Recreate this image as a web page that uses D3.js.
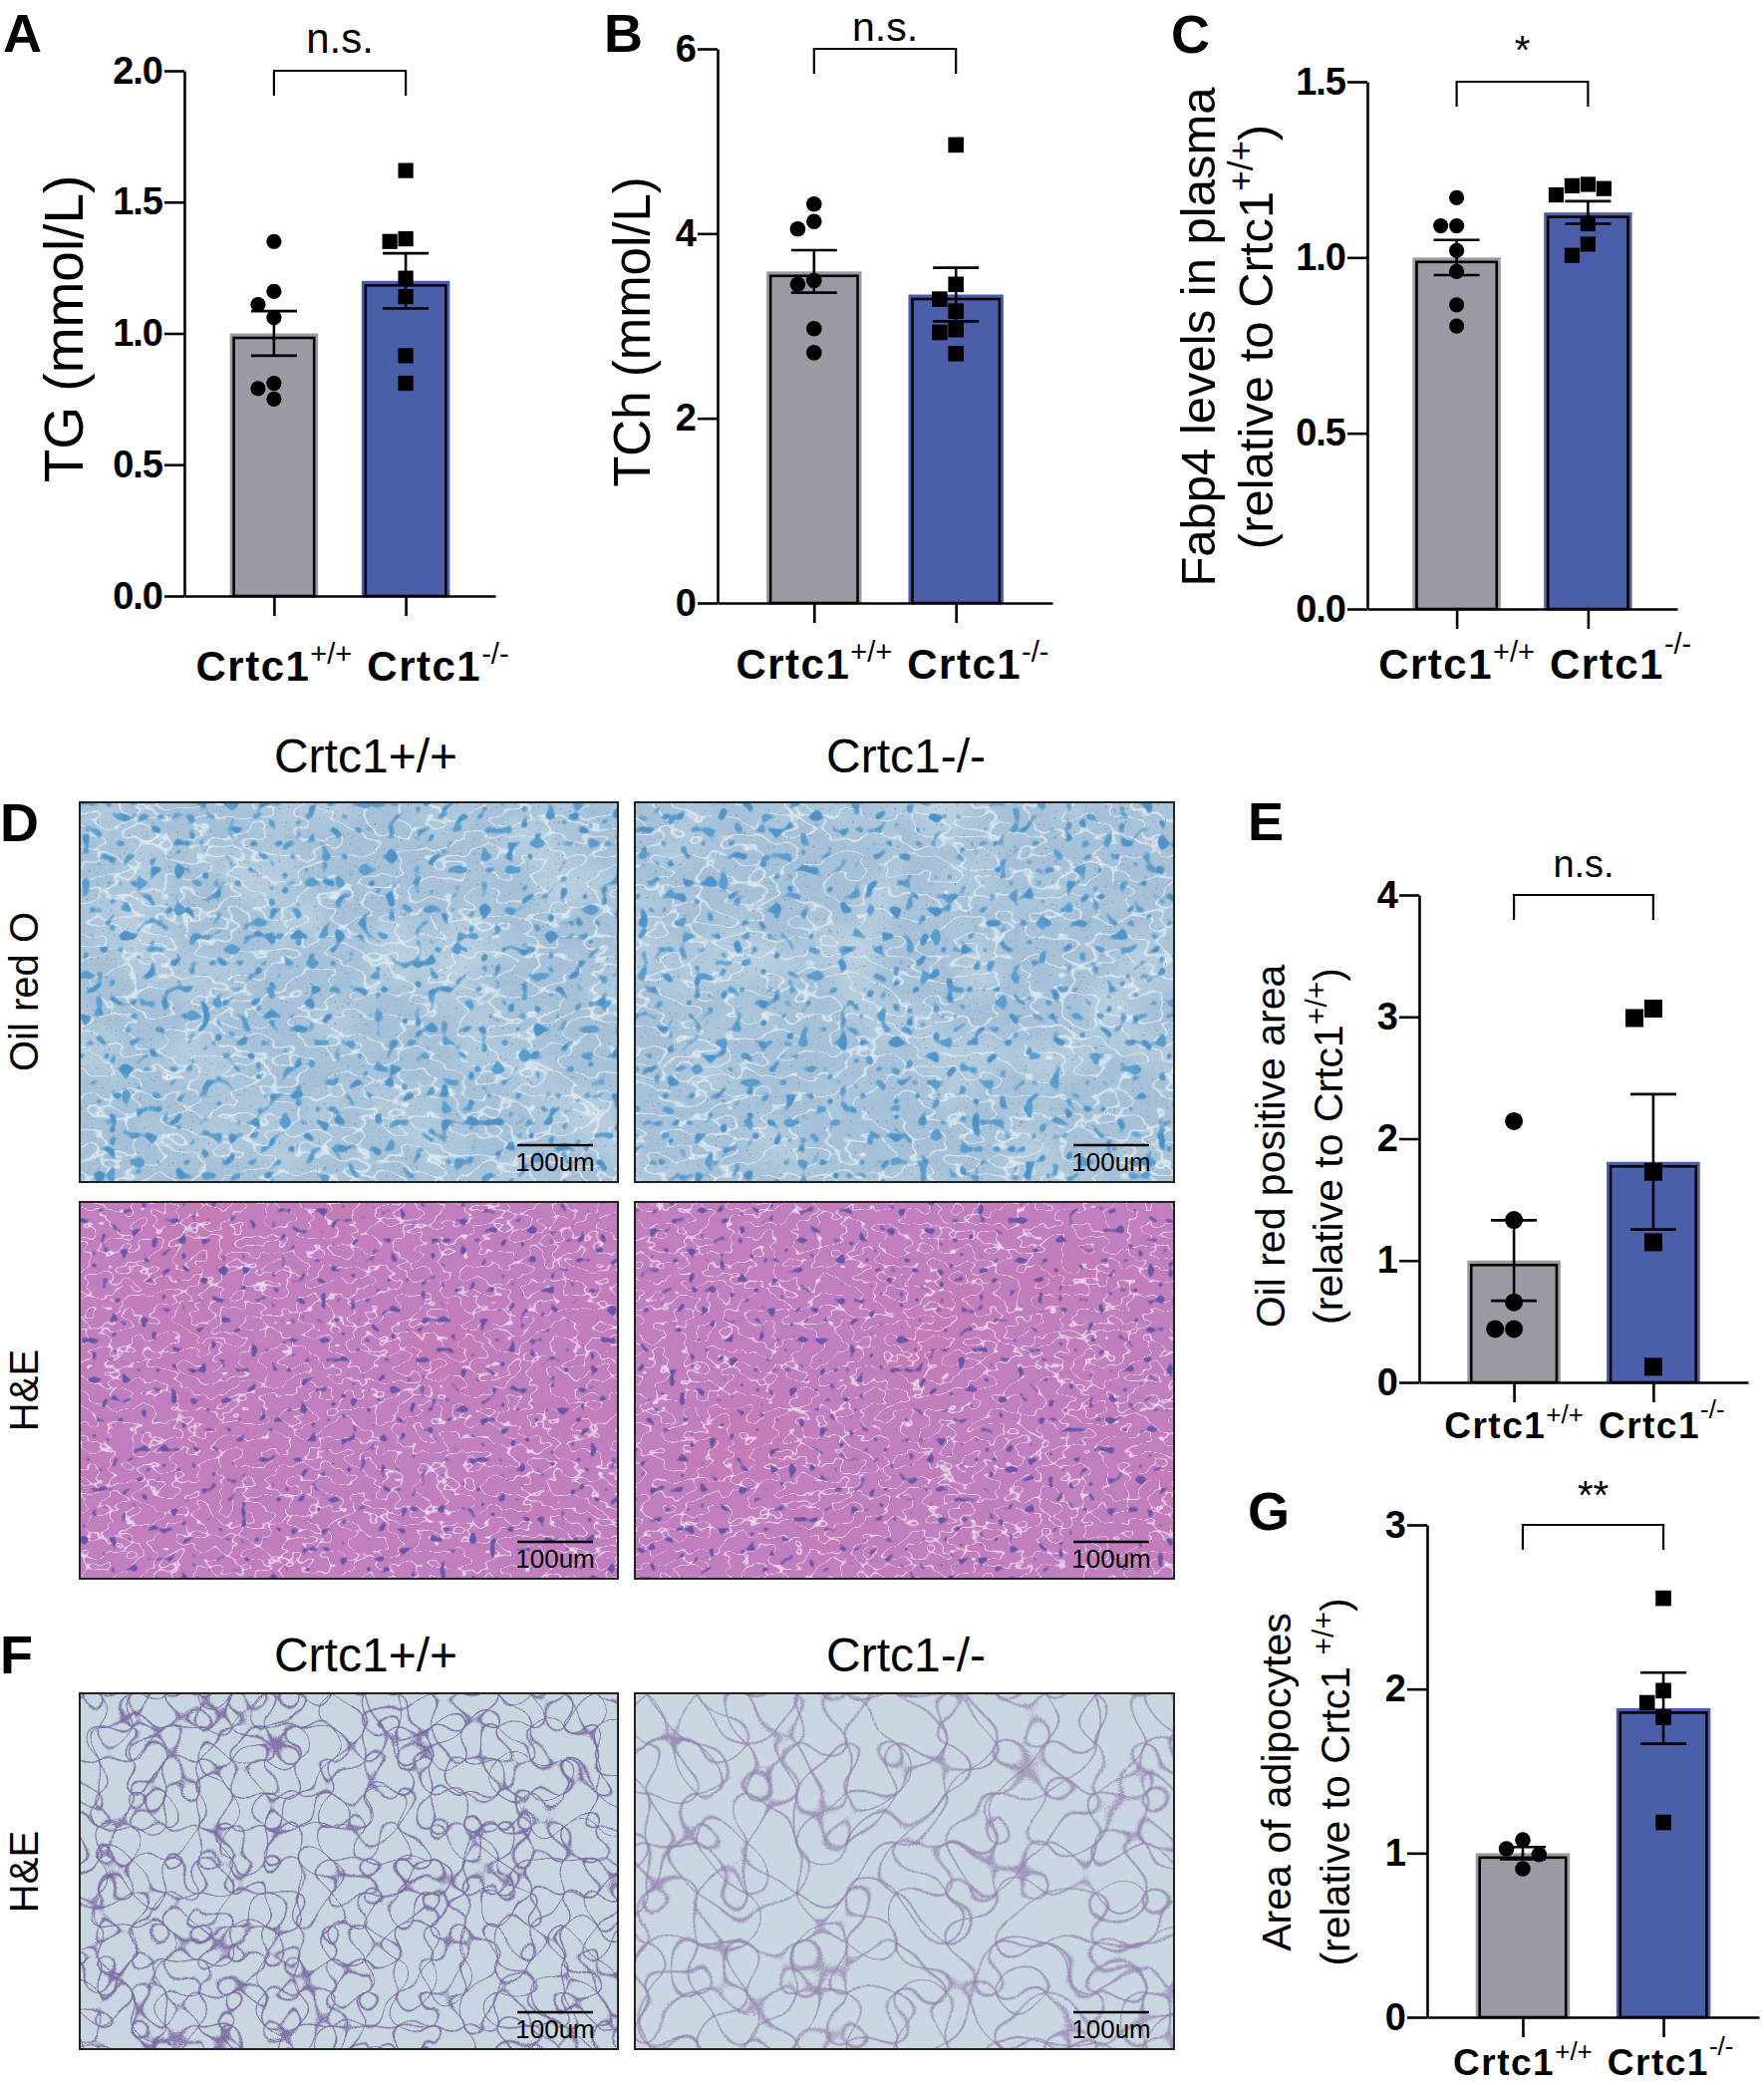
<!DOCTYPE html>
<html>
<head>
<meta charset="utf-8">
<script src="https://cdn.jsdelivr.net/npm/d3@7"></script>
<style>
  body { margin: 0; background: #fff; }
  svg text { font-family: "Liberation Sans", Arial, sans-serif; fill: #000; }
</style>
</head>
<body>
<svg id="fig" width="1770" height="2092"></svg>
<script>
// groups shared by every bar panel
const groups = ["Crtc1+/+", "Crtc1-/-"];

// A - TG (mmol/L)
const tgMean = [1.0, 1.2];
const tgSem = [0.085, 0.105];
const tgWT = [1.35, 1.16, 1.11, 1.06, 0.81, 0.79, 0.75];
const tgKO = [1.62, 1.36, 1.35, 1.21, 1.14, 0.915, 0.81];
const tgTicks = [0, 0.5, 1.0, 1.5, 2.0];

// B - TCh (mmol/L)
const tchMean = [3.59, 3.34];
const tchSem = [0.23, 0.29];
const tchWT = [4.32, 4.13, 4.05, 3.49, 3.45, 2.97, 2.71];
const tchKO = [4.96, 3.45, 3.29, 3.16, 2.96, 2.93, 2.70];
const tchTicks = [0, 2, 4, 6];

// C - Fabp4 in plasma
const fabMean = [1.0, 1.128];
const fabSem = [0.05, 0.032];
const fabWT = [1.17, 1.09, 1.09, 1.02, 0.96, 0.865, 0.805];
const fabKO = [1.208, 1.204, 1.196, 1.178, 1.096, 1.038, 1.006];
const fabTicks = [0, 0.5, 1.0, 1.5];

// E - Oil red positive area
const oroMean = [1.0, 1.81];
const oroSem = [0.33, 0.555];
const oroWT = [2.144, 1.333, 0.657, 0.438, 0.438];
const oroKO = [3.068, 2.99, 1.728, 1.15, 0.128];
const oroTicks = [0, 1, 2, 3, 4];

// G - Area of adipocytes
const adiMean = [1.0, 1.883];
const adiSem = [0.037, 0.217];
const adiWT = [1.08, 1.026, 0.991, 0.905];
const adiKO = [2.553, 1.99, 1.916, 1.828, 1.187];
const adiTicks = [0, 1, 2, 3];

const barColors = ["#9b9ba3", "#4a5ea9"];

const svg = d3.select("#fig");

// ---------- textures for the micrographs (filters only) ----------
const alphaFrom = ch => {
  const m = [0, 0, 0, 0];
  m[ch] = 1;
  return "0 0 0 0 0 0 0 0 0 0 0 0 0 0 0 " + m.join(" ") + " 0";
};
const band = (n, peak) => {
  const v = new Array(n).fill(0);
  v[Math.floor(n / 2)] = peak;
  return v.join(" ");
};

const defs = svg.append("defs");
defs.html(`
<filter id="fOro" x="0" y="0" width="1" height="1" color-interpolation-filters="sRGB">
  <feFlood flood-color="#a5c2d9" result="bg"/>
  <feTurbulence type="fractalNoise" baseFrequency="0.012" numOctaves="2" seed="21" result="lo"/>
  <feColorMatrix in="lo" type="matrix" values="${alphaFrom(0)}" result="loA"/>
  <feComponentTransfer in="loA" result="loM"><feFuncA type="linear" slope="2" intercept="-0.9"/></feComponentTransfer>
  <feFlood flood-color="#c3d7e4"/><feComposite in2="loM" operator="in" result="light"/>
  <feTurbulence type="fractalNoise" baseFrequency="0.03 0.05" numOctaves="2" seed="7" result="nw"/>
  <feColorMatrix in="nw" type="matrix" values="${alphaFrom(0)}" result="nwA"/>
  <feComponentTransfer in="nwA" result="paleMask"><feFuncA type="table" tableValues="${band(31, 0.9)}"/></feComponentTransfer>
  <feFlood flood-color="#e3edf3"/><feComposite in2="paleMask" operator="in" result="pale"/>
  <feTurbulence type="fractalNoise" baseFrequency="0.075" numOctaves="1" seed="2" result="nn"/>
  <feColorMatrix in="nn" type="matrix" values="${alphaFrom(0)}" result="nnA"/>
  <feComponentTransfer in="nnA" result="nucMask"><feFuncA type="linear" slope="14" intercept="-8.9"/></feComponentTransfer>
  <feFlood flood-color="#4f94c9"/><feComposite in2="nucMask" operator="in" result="nuc"/>
  <feColorMatrix in="nn" type="matrix" values="${alphaFrom(1)}" result="nnB"/>
  <feComponentTransfer in="nnB" result="nucMask2"><feFuncA type="linear" slope="14" intercept="-9.0"/></feComponentTransfer>
  <feFlood flood-color="#5a9ecf"/><feComposite in2="nucMask2" operator="in" result="nuc2"/>
  <feTurbulence type="fractalNoise" baseFrequency="0.45" numOctaves="1" seed="11" result="nr"/>
  <feColorMatrix in="nr" type="matrix" values="${alphaFrom(1)}" result="nrA"/>
  <feComponentTransfer in="nrA" result="redMask"><feFuncA type="linear" slope="6" intercept="-4.0"/></feComponentTransfer>
  <feFlood flood-color="#a4546e" flood-opacity="0.75"/><feComposite in2="redMask" operator="in" result="red"/>
  <feMerge><feMergeNode in="bg"/><feMergeNode in="light"/><feMergeNode in="pale"/><feMergeNode in="nuc"/><feMergeNode in="nuc2"/><feMergeNode in="red"/></feMerge>
</filter>
<filter id="fHe" x="0" y="0" width="1" height="1" color-interpolation-filters="sRGB">
  <feFlood flood-color="#c17fc0" result="bg"/>
  <feTurbulence type="fractalNoise" baseFrequency="0.008" numOctaves="2" seed="4" result="lo"/>
  <feColorMatrix in="lo" type="matrix" values="0 0 0 0 0 0 0 0 0 0 0 0 0 0 0 2 0 0 0 -1" result="loA"/>
  <feFlood flood-color="#d0749f" flood-opacity="0.55"/><feComposite in2="loA" operator="in" result="patch"/>
  <feTurbulence type="fractalNoise" baseFrequency="0.045 0.07" numOctaves="2" seed="9" result="cw"/>
  <feColorMatrix in="cw" type="matrix" values="${alphaFrom(0)}" result="cwA"/>
  <feComponentTransfer in="cwA" result="crackMask"><feFuncA type="table" tableValues="${band(41, 0.9)}"/></feComponentTransfer>
  <feFlood flood-color="#f4e8f4"/><feComposite in2="crackMask" operator="in" result="crack"/>
  <feTurbulence type="fractalNoise" baseFrequency="0.1" numOctaves="1" seed="5" result="nn"/>
  <feColorMatrix in="nn" type="matrix" values="${alphaFrom(0)}" result="nnA"/>
  <feComponentTransfer in="nnA" result="nucMask"><feFuncA type="linear" slope="14" intercept="-9.1"/></feComponentTransfer>
  <feFlood flood-color="#6a55a8"/><feComposite in2="nucMask" operator="in" result="nuc"/>
  <feMerge><feMergeNode in="bg"/><feMergeNode in="patch"/><feMergeNode in="crack"/><feMergeNode in="nuc"/></feMerge>
</filter>
<filter id="fFat" x="0" y="0" width="1" height="1" color-interpolation-filters="sRGB">
  <feFlood flood-color="#c7d6df" result="bg"/>
  <feTurbulence type="fractalNoise" baseFrequency="0.03" numOctaves="1" seed="3" result="n1"/>
  <feColorMatrix in="n1" type="matrix" values="${alphaFrom(0)}" result="a1"/>
  <feComponentTransfer in="a1" result="l1"><feFuncA type="table" tableValues="${band(61, 1)}"/></feComponentTransfer>
  <feColorMatrix in="n1" type="matrix" values="${alphaFrom(1)}" result="a2"/>
  <feComponentTransfer in="a2" result="l2"><feFuncA type="table" tableValues="${band(61, 1)}"/></feComponentTransfer>
  <feColorMatrix in="n1" type="matrix" values="${alphaFrom(2)}" result="a3"/>
  <feComponentTransfer in="a3" result="l3"><feFuncA type="table" tableValues="${band(61, 1)}"/></feComponentTransfer>
  <feMerge result="lines"><feMergeNode in="l1"/><feMergeNode in="l2"/><feMergeNode in="l3"/></feMerge>
  <feFlood flood-color="#7a68a0"/><feComposite in2="lines" operator="in" result="wall"/>
  <feMerge><feMergeNode in="bg"/><feMergeNode in="wall"/></feMerge>
</filter>
<filter id="fFat2" x="0" y="0" width="1" height="1" color-interpolation-filters="sRGB">
  <feFlood flood-color="#c9d7e0" result="bg"/>
  <feTurbulence type="fractalNoise" baseFrequency="0.02" numOctaves="1" seed="12" result="n1"/>
  <feColorMatrix in="n1" type="matrix" values="${alphaFrom(0)}" result="a1"/>
  <feComponentTransfer in="a1" result="l1"><feFuncA type="table" tableValues="${band(61, 0.85)}"/></feComponentTransfer>
  <feColorMatrix in="n1" type="matrix" values="${alphaFrom(1)}" result="a2"/>
  <feComponentTransfer in="a2" result="l2"><feFuncA type="table" tableValues="${band(61, 0.85)}"/></feComponentTransfer>
  <feColorMatrix in="n1" type="matrix" values="${alphaFrom(2)}" result="a3"/>
  <feComponentTransfer in="a3" result="l3"><feFuncA type="table" tableValues="${band(61, 0.85)}"/></feComponentTransfer>
  <feMerge result="lines"><feMergeNode in="l1"/><feMergeNode in="l2"/><feMergeNode in="l3"/></feMerge>
  <feFlood flood-color="#9482b0"/><feComposite in2="lines" operator="in" result="wall"/>
  <feMerge><feMergeNode in="bg"/><feMergeNode in="wall"/></feMerge>
</filter>`);

// ---------- helpers ----------
function swarm(vals, y, d) {
  const placed = [];
  const order = vals.map((v, i) => i).sort((a, b) => vals[b] - vals[a]);
  const offs = [0, -1, 1, -2, 2, -3, 3];
  order.forEach(i => {
    const py = y(vals[i]);
    for (const k of offs) {
      const px = k * d;
      if (placed.every(q => (q.x - px) ** 2 + (q.y - py) ** 2 >= d * d * 0.9)) {
        placed.push({ x: px, y: py, v: vals[i] });
        break;
      }
    }
  });
  return placed;
}

// writes label segments into a text node; superscripts are raised and smaller
function addLabel(t, segs, supSize, supDy) {
  segs.forEach(s => {
    const ts = t.append("tspan").text(s.t);
    if (s.sup) ts.attr("font-size", supSize).attr("dy", supDy);
    else if (s.after) ts.attr("dy", -supDy);
  });
}

function drawPanel(p) {
  const g = svg.append("g");
  const y = d3.scaleLinear().domain([0, p.ymax]).range([p.y0, p.y1]);
  const x = d3.scalePoint().domain(groups).range([p.x0, p.x1]).padding(0.68);
  const bw = x.step() * 0.67;

  // bars
  groups.forEach((grp, i) => {
    const cx = x(grp);
    const top = y(p.mean[i]);
    g.append("rect")
      .attr("x", cx - bw / 2).attr("y", top)
      .attr("width", bw).attr("height", y(0) - top)
      .attr("fill", barColors[i]);
    g.append("rect")
      .attr("x", cx - bw / 2 + 4).attr("y", top + 4.5)
      .attr("width", bw - 8).attr("height", y(0) - top - 4.5)
      .attr("fill", "none").attr("stroke", "#000").attr("stroke-width", 2.6);
  });

  // error bars (mean +/- SEM)
  groups.forEach((grp, i) => {
    const cx = x(grp);
    const hi = y(p.mean[i] + p.sem[i]);
    const lo = y(p.mean[i] - p.sem[i]);
    const eb = g.append("g").attr("stroke", "#000").attr("stroke-width", 2.6);
    eb.append("line").attr("x1", cx).attr("x2", cx).attr("y1", hi).attr("y2", lo);
    eb.append("line").attr("x1", cx - 23).attr("x2", cx + 23).attr("y1", hi).attr("y2", hi);
    eb.append("line").attr("x1", cx - 23).attr("x2", cx + 23).attr("y1", lo).attr("y2", lo);
  });

  // individual animals
  const wt = swarm(p.wt, y, p.r * 2.1);
  g.selectAll(".dot").data(wt).enter().append("circle")
    .attr("cx", d => x(groups[0]) + d.x).attr("cy", d => d.y)
    .attr("r", p.r).attr("fill", "#000");
  const ko = swarm(p.ko, y, p.r * 2.1);
  g.selectAll(".sq").data(ko).enter().append("rect")
    .attr("x", d => x(groups[1]) + d.x - p.r).attr("y", d => d.y - p.r)
    .attr("width", p.r * 2).attr("height", p.r * 2).attr("fill", "#000");

  // axes
  const yAxis = d3.axisLeft(y).tickValues(p.ticks).tickFormat(d3.format(p.fmt))
    .tickSize(20).tickSizeOuter(0).tickPadding(2);
  const ya = g.append("g").attr("transform", `translate(${p.x0},0)`).call(yAxis);
  ya.selectAll("text").attr("font-size", 38).attr("font-weight", "bold")
    .attr("letter-spacing", -1)
    .attr("font-family", "Liberation Sans, Arial, sans-serif");
  const xAxis = d3.axisBottom(x).tickSize(20).tickSizeOuter(0).tickFormat("");
  const xa = g.append("g").attr("transform", `translate(0,${p.y0})`).call(xAxis);
  [ya, xa].forEach(a => {
    a.select(".domain").attr("stroke-width", 2.6);
    a.selectAll(".tick line").attr("stroke-width", 2.6);
  });

  // significance bracket
  const by = y(p.ymax);
  const bx0 = x(groups[0]), bx1 = x(groups[1]);
  g.append("path")
    .attr("d", `M${bx0},${by + 25}V${by}H${bx1}V${by + 25}`)
    .attr("fill", "none").attr("stroke", "#000").attr("stroke-width", 2.2);
  g.append("text").attr("x", (bx0 + bx1) / 2).attr("y", by + p.sigDy)
    .attr("text-anchor", "middle").attr("font-size", p.sigSize).text(p.sig);

  // y label
  p.ylab.forEach((segs, li) => {
    const t = g.append("text")
      .attr("transform", `translate(${p.ylabX[li]},${p.ylabY}) rotate(-90)`)
      .attr("text-anchor", "middle").attr("dy", "0.35em")
      .attr("font-size", p.ylabSize);
    addLabel(t, segs, Math.round(p.ylabSize * 0.72), -Math.round(p.ylabSize * 0.4));
  });

  // x labels: the second label never runs into the first
  const fs = p.xlabSize;
  const mk = (base, sup, supDy) => {
    const t = g.append("text").attr("y", p.xlabY).attr("font-size", fs)
      .attr("font-weight", "bold").attr("letter-spacing", 1.5);
    t.append("tspan").text(base);
    t.append("tspan").text(sup).attr("font-size", Math.round(fs * 0.7)).attr("font-weight", "normal")
      .attr("letter-spacing", 0).attr("dy", supDy);
    return t;
  };
  const t1 = mk("Crtc1", "+/+", -Math.round(fs * 0.4));
  const w1 = t1.node().getComputedTextLength();
  t1.attr("x", x(groups[0]) - w1 / 2);
  const t2 = mk("Crtc1", "-/-", -Math.round(fs * p.koSup));
  const w2 = t2.node().getComputedTextLength();
  t2.attr("x", Math.max(x(groups[1]) - w2 / 2, x(groups[0]) + w1 / 2 + 15));

  // panel letter
  g.append("text").attr("x", p.letterX).attr("y", p.letterY)
    .attr("font-size", 54).attr("font-weight", "bold").text(p.letter);
}

const sup = (s) => ({ t: s, sup: true });

drawPanel({ letter: "A", letterX: 3, letterY: 52,
  mean: tgMean, sem: tgSem, wt: tgWT, ko: tgKO, ticks: tgTicks, fmt: ".1f", ymax: 2,
  x0: 185, x1: 497, y0: 598, y1: 71, r: 7.6,
  sig: "n.s.", sigSize: 42, sigDy: -18, xlabY: 683, xlabSize: 42, koSup: 0.4,
  ylab: [[{ t: "TG (mmol/L)" }]], ylabX: [64], ylabY: 330, ylabSize: 55 });

drawPanel({ letter: "B", letterX: 606, letterY: 52,
  mean: tchMean, sem: tchSem, wt: tchWT, ko: tchKO, ticks: tchTicks, fmt: "d", ymax: 6,
  x0: 720, x1: 1056, y0: 605, y1: 49, r: 7.8,
  sig: "n.s.", sigSize: 41, sigDy: -8, xlabY: 681, xlabSize: 42, koSup: 0.4,
  ylab: [[{ t: "TCh (mmol/L)" }]], ylabX: [634], ylabY: 333, ylabSize: 51 });

drawPanel({ letter: "C", letterX: 1175, letterY: 53,
  mean: fabMean, sem: fabSem, wt: fabWT, ko: fabKO, ticks: fabTicks, fmt: ".1f", ymax: 1.5,
  x0: 1372, x1: 1683, y0: 611, y1: 82, r: 7.6,
  sig: "*", sigSize: 40, sigDy: -18, xlabY: 681, xlabSize: 42, koSup: 0.6,
  ylab: [[{ t: "Fabp4 levels in plasma" }],
         [{ t: "(relative to Crtc1" }, sup("+/+"), { t: ")", after: true }]],
  ylabX: [1202, 1260], ylabY: 338, ylabSize: 49 });

drawPanel({ letter: "E", letterX: 1252, letterY: 843,
  mean: oroMean, sem: oroSem, wt: oroWT, ko: oroKO, ticks: oroTicks, fmt: "d", ymax: 4,
  x0: 1424, x1: 1754, y0: 1387, y1: 898, r: 9,
  sig: "n.s.", sigSize: 38, sigDy: -18, xlabY: 1443, xlabSize: 37, koSup: 0.55,
  ylab: [[{ t: "Oil red positive area" }],
         [{ t: "(relative to Crtc1" }, sup("+/+"), { t: ")", after: true }]],
  ylabX: [1275, 1333], ylabY: 1150, ylabSize: 41 });

drawPanel({ letter: "G", letterX: 1252, letterY: 1535,
  mean: adiMean, sem: adiSem, wt: adiWT, ko: adiKO, ticks: adiTicks, fmt: "d", ymax: 3,
  x0: 1432, x1: 1765, y0: 2024, y1: 1530, r: 7.8,
  sig: "**", sigSize: 40, sigDy: -16, xlabY: 2082, xlabSize: 37, koSup: 0.55,
  ylab: [[{ t: "Area of adipocytes" }],
         [{ t: "(relative to Crtc1 " }, sup("+/+"), { t: ")", after: true }]],
  ylabX: [1281, 1340], ylabY: 1788, ylabSize: 41 });

// ---------- micrograph panels D and F ----------
const imgCols = [[80, 620], [637, 1178]];
const imgRows = [
  { y: [805, 1186], filters: ["fOro", "fOro"] },
  { y: [1206, 1584], filters: ["fHe", "fHe"] },
  { y: [1699, 2056], filters: ["fFat", "fFat2"] }
];
imgRows.forEach(row => {
  imgCols.forEach((c, ci) => {
    svg.append("rect").attr("x", c[0]).attr("y", row.y[0])
      .attr("width", c[1] - c[0]).attr("height", row.y[1] - row.y[0])
      .attr("filter", `url(#${row.filters[ci]})`).attr("fill", "#fff");
    svg.append("rect").attr("x", c[0]).attr("y", row.y[0])
      .attr("width", c[1] - c[0]).attr("height", row.y[1] - row.y[0])
      .attr("fill", "none").attr("stroke", "#222").attr("stroke-width", 2);
    // 100 um scale bar
    const sx1 = c[1] - 25, sx0 = sx1 - 76;
    svg.append("line").attr("x1", sx0).attr("x2", sx1)
      .attr("y1", row.y[1] - 37).attr("y2", row.y[1] - 37)
      .attr("stroke", "#000").attr("stroke-width", 2.5);
    svg.append("text").attr("x", (sx0 + sx1) / 2).attr("y", row.y[1] - 11)
      .attr("text-anchor", "middle").attr("font-size", 26)
      .style("font-family", "'Liberation Sans Narrow', 'Liberation Sans', Arial, sans-serif")
      .text("100um");
  });
});

// column headers and row labels
[775, 1677].forEach(hy => {
  svg.append("text").attr("x", 367).attr("y", hy).attr("text-anchor", "middle")
    .attr("font-size", 48).text("Crtc1+/+");
  svg.append("text").attr("x", 909).attr("y", hy).attr("text-anchor", "middle")
    .attr("font-size", 48).text("Crtc1-/-");
});
[["Oil red O", 995], ["H&E", 1395], ["H&E", 1878]].forEach(([lab, cy]) => {
  svg.append("text").attr("transform", `translate(24,${cy}) rotate(-90)`)
    .attr("text-anchor", "middle").attr("dy", "0.35em").attr("font-size", 40).text(lab);
});
svg.append("text").attr("x", 0).attr("y", 844).attr("font-size", 54).attr("font-weight", "bold").text("D");
svg.append("text").attr("x", 0).attr("y", 1679).attr("font-size", 54).attr("font-weight", "bold").text("F");
</script>
</body>
</html>
